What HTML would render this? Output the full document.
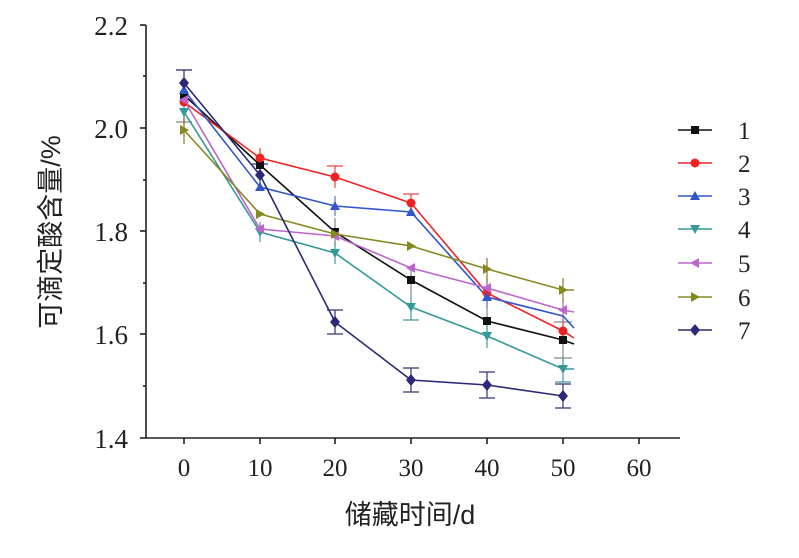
<!DOCTYPE html>
<html><head><meta charset="utf-8"><style>
html,body{margin:0;padding:0;background:#fff;}
svg text{font-family:"Liberation Serif","Noto Serif CJK SC",serif;fill:#222;}
svg text.cjk{font-family:"Liberation Sans","Noto Sans CJK SC",sans-serif;}
</style></head><body>
<svg width="799" height="553" viewBox="0 0 799 553" xmlns="http://www.w3.org/2000/svg">
<rect width="799" height="553" fill="#fff"/>
<g stroke="#222" stroke-width="1.6" fill="none">
<line x1="146" y1="25" x2="146" y2="438"/>
<line x1="146" y1="438" x2="680" y2="438"/>
<line x1="140" y1="25" x2="146" y2="25"/>
<line x1="140" y1="128" x2="146" y2="128"/>
<line x1="140" y1="231" x2="146" y2="231"/>
<line x1="140" y1="334" x2="146" y2="334"/>
<line x1="140" y1="438" x2="146" y2="438"/>
<line x1="143" y1="76" x2="146" y2="76"/>
<line x1="143" y1="180" x2="146" y2="180"/>
<line x1="143" y1="283" x2="146" y2="283"/>
<line x1="143" y1="386" x2="146" y2="386"/>
<line x1="184" y1="438" x2="184" y2="444"/>
<line x1="260" y1="438" x2="260" y2="444"/>
<line x1="335" y1="438" x2="335" y2="444"/>
<line x1="411" y1="438" x2="411" y2="444"/>
<line x1="487" y1="438" x2="487" y2="444"/>
<line x1="563" y1="438" x2="563" y2="444"/>
<line x1="639" y1="438" x2="639" y2="444"/>
</g>
<g font-size="27" text-anchor="end">
<text x="128" y="35">2.2</text><text x="128" y="138">2.0</text><text x="128" y="241">1.8</text><text x="128" y="344">1.6</text><text x="128" y="448">1.4</text>
</g>
<g font-size="25" text-anchor="middle">
<text x="184" y="476">0</text><text x="260" y="476">10</text><text x="335" y="476">20</text><text x="411" y="476">30</text><text x="487" y="476">40</text><text x="563" y="476">50</text><text x="639" y="476">60</text>
</g>
<text class="cjk" x="410" y="524" font-size="27" text-anchor="middle">储藏时间/d</text>
<text class="cjk" transform="translate(60,232) rotate(-90)" font-size="27" text-anchor="middle">可滴定酸含量/%</text>

<g stroke-width="1.2" fill="none">
<path stroke="#888" d="M184,70v52M260,150v30M335,218v28M411,266v28M487,306v30M563,322v36M176,70h16M176,122h16M554,322h18M554,358h18"/>
<path stroke="#e44" d="M260,148v20M335,166v22M411,194v18M487,282v22M563,318v26M327,166h16M403,194h16"/>
<path stroke="#5577cc" d="M184,80v22M487,286v22M335,196v20"/>
<path stroke="#449999" d="M184,100v24M260,222v20M335,242v22M411,294v26M487,324v24M563,356v26M555,382h16M403,320h16"/>
<path stroke="#aa66cc" d="M563,300v22M487,278v22"/>
<path stroke="#887722" d="M184,118v26M563,278v24M487,258v24"/>
<path stroke="#333377" d="M184,70v26M260,164v24M335,310v24M411,368v24M487,372v26M563,384v24M176,70h16M252,164h16M327,310h16M327,334h16M403,368h16M403,392h16M479,372h16M479,398h16M555,384h16M555,408h16"/>
</g>

<g fill="none" stroke-width="1.6">
<polyline stroke="#111" points="184,95 260,165 335,232 411,280 487,321 563,340 574,344"/>
<polyline stroke="#ee2222" points="184,102 260,158 335,177 411,203 487,293 563,331 574,338"/>
<polyline stroke="#3355cc" points="184,90 260,187 335,206 411,212 487,297 563,316 574,328"/>
<polyline stroke="#339999" points="184,112 260,232 335,253 411,307 487,336 563,369 574,369"/>
<polyline stroke="#bb66cc" points="184,100 260,229 335,236 411,268 487,288 563,310 574,312"/>
<polyline stroke="#888822" points="184,130 260,214 335,234 411,246 487,269 563,290 574,290"/>
<polyline stroke="#2a2a77" points="184,83 260,175 335,322 411,380 487,385 563,396"/>
</g>
<g fill="#111"><rect x="180" y="91" width="8" height="8"/><rect x="256" y="161" width="8" height="8"/><rect x="331" y="228" width="8" height="8"/><rect x="407" y="276" width="8" height="8"/><rect x="483" y="317" width="8" height="8"/><rect x="559" y="336" width="8" height="8"/></g>
<g fill="#ee2222"><circle cx="184" cy="102" r="4.5"/><circle cx="260" cy="158" r="4.5"/><circle cx="335" cy="177" r="4.5"/><circle cx="411" cy="203" r="4.5"/><circle cx="487" cy="293" r="4.5"/><circle cx="563" cy="331" r="4.5"/></g>
<g fill="#3355cc"><path d="M184,85l5,9h-10z"/><path d="M260,182l5,9h-10z"/><path d="M335,201l5,9h-10z"/><path d="M411,207l5,9h-10z"/><path d="M487,292l5,9h-10z"/></g>
<g fill="#339999"><path d="M184,117l5,-9h-10z"/><path d="M260,237l5,-9h-10z"/><path d="M335,258l5,-9h-10z"/><path d="M411,312l5,-9h-10z"/><path d="M487,341l5,-9h-10z"/><path d="M563,374l5,-9h-10z"/></g>
<g fill="#bb66cc"><path d="M179,100l9,-5v10z"/><path d="M255,229l9,-5v10z"/><path d="M330,236l9,-5v10z"/><path d="M406,268l9,-5v10z"/><path d="M482,288l9,-5v10z"/><path d="M558,310l9,-5v10z"/></g>
<g fill="#888822"><path d="M189,130l-9,-5v10z"/><path d="M265,214l-9,-5v10z"/><path d="M340,234l-9,-5v10z"/><path d="M416,246l-9,-5v10z"/><path d="M492,269l-9,-5v10z"/><path d="M568,290l-9,-5v10z"/></g>
<g fill="#2a2a77"><path d="M184,77l5,6l-5,6l-5,-6z"/><path d="M260,169l5,6l-5,6l-5,-6z"/><path d="M335,316l5,6l-5,6l-5,-6z"/><path d="M411,374l5,6l-5,6l-5,-6z"/><path d="M487,379l5,6l-5,6l-5,-6z"/><path d="M563,390l5,6l-5,6l-5,-6z"/></g>

<g stroke-width="1.6">
<line x1="678" y1="130" x2="712" y2="130" stroke="#111"/><rect x="691" y="126" width="8" height="8" fill="#111"/>
<line x1="678" y1="163" x2="712" y2="163" stroke="#ee2222"/><circle cx="695" cy="163" r="4.5" fill="#ee2222"/>
<line x1="678" y1="196" x2="712" y2="196" stroke="#3355cc"/><path d="M695,191l5,9h-10z" fill="#3355cc"/>
<line x1="678" y1="229" x2="712" y2="229" stroke="#339999"/><path d="M695,234l5,-9h-10z" fill="#339999"/>
<line x1="678" y1="263" x2="712" y2="263" stroke="#bb66cc"/><path d="M690,263l9,-5v10z" fill="#bb66cc"/>
<line x1="678" y1="297" x2="712" y2="297" stroke="#888822"/><path d="M700,297l-9,-5v10z" fill="#888822"/>
<line x1="678" y1="330" x2="712" y2="330" stroke="#2a2a77"/><path d="M695,324l5,6l-5,6l-5,-6z" fill="#2a2a77"/>
</g>
<g font-size="25"><text x="738" y="139">1</text><text x="738" y="172">2</text><text x="738" y="205">3</text><text x="738" y="238">4</text><text x="738" y="272">5</text><text x="738" y="306">6</text><text x="738" y="339">7</text></g>
</svg>
</body></html>
